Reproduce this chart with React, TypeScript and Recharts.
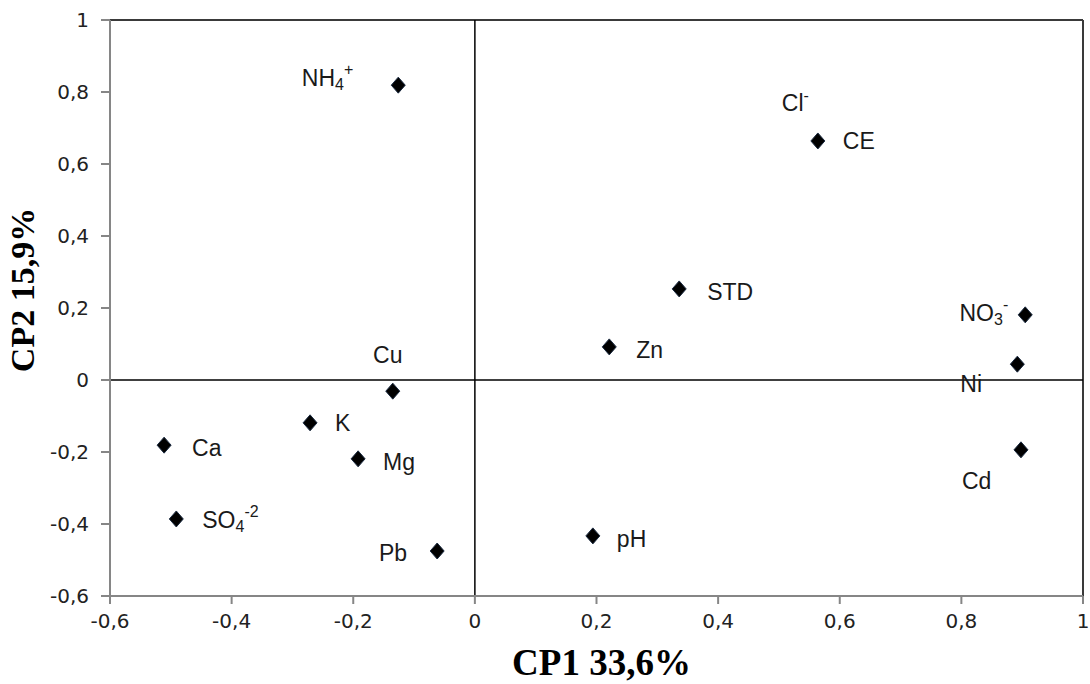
import {
  ScatterChart,
  Scatter,
  XAxis,
  YAxis,
  ReferenceLine,
  Label,
} from "recharts";

// PCA loadings (CP1, CP2)
const names = ["NH4+", "Cl-", "CE", "STD", "Zn", "NO3-", "Ni", "Cd", "Cu", "K", "Ca", "Mg", "SO4-2", "Pb", "pH"];
const cp1 = [-0.126, 0.564, 0.564, 0.336, 0.221, 0.905, 0.892, 0.898, -0.135, -0.271, -0.511, -0.192, -0.491, -0.062, 0.194];
const cp2 = [0.819, 0.664, 0.664, 0.253, 0.092, 0.181, 0.044, -0.194, -0.031, -0.119, -0.181, -0.219, -0.386, -0.475, -0.433];
const xTicks = [-0.6, -0.4, -0.2, 0, 0.2, 0.4, 0.6, 0.8, 1];
const yTicks = [-0.6, -0.4, -0.2, 0, 0.2, 0.4, 0.6, 0.8, 1];

// how each label is written: main text, subscript, superscript
const labelParts: Record<string, [string, string, string]> = {
  "NH4+": ["NH", "4", "+"],
  "Cl-": ["Cl", "", "-"],
  "NO3-": ["NO", "3", "-"],
  "SO4-2": ["SO", "4", "-2"],
};

// label placement relative to the marker: dx, dy, anchor
const labelPos: Record<string, [number, number, "start" | "middle" | "end"]> = {
  "NH4+": [-45, -7, "end"],
  "Cl-": [-36, -38, "start"],
  CE: [25, 0, "start"],
  STD: [28, 3, "start"],
  Zn: [27, 3, "start"],
  "NO3-": [-17, -2, "end"],
  Ni: [-57, 20, "start"],
  Cd: [-59, 31, "start"],
  Cu: [-5, -36, "middle"],
  K: [25, 0, "start"],
  Ca: [28, 3, "start"],
  Mg: [25, 3, "start"],
  "SO4-2": [26, 1, "start"],
  Pb: [-30, 2, "end"],
  pH: [24, 3, "start"],
};

const data = names.map((name, i) => ({ name, x: cp1[i], y: cp2[i] }));

const fmt = (v: number) => String(Math.round(v * 10) / 10).replace(".", ",");

const Marker = (props: any) => {
  const { cx, cy, payload } = props;
  const name: string = payload.name;
  const [dx, dy, anchor] = labelPos[name] || [25, 0, "start"];
  const parts = labelParts[name] || [name, "", ""];
  return (
    <g>
      {name !== "Cl-" && (
        <path
          d={`M${cx},${cy - 8}L${cx + 7},${cy}L${cx},${cy + 8}L${cx - 7},${cy}Z`}
          fill="#000"
          stroke="#1a2a40"
          strokeWidth={1}
        />
      )}
      <text
        x={cx + dx}
        y={cy + dy}
        textAnchor={anchor}
        dominantBaseline="central"
        fontFamily="Liberation Sans, Arial, sans-serif"
        fontSize={23}
        fill="#1a1a1a"
      >
        {parts[0]}
        {parts[1] && (
          <tspan fontSize={16} dy={6}>
            {parts[1]}
          </tspan>
        )}
        {parts[2] && (
          <tspan fontSize={16} dy={parts[1] ? -15 : -8}>
            {parts[2]}
          </tspan>
        )}
      </text>
    </g>
  );
};

const tickStyle = { fontFamily: "DejaVu Sans, Verdana, sans-serif", fontSize: 20, fill: "#222" };

export default function App() {
  return (
    <div style={{ position: "absolute", left: 0, top: 0, width: 1090, height: 684, background: "#fff" }}>
      <ScatterChart width={1090} height={684} margin={{ top: 20, right: 7, left: 10, bottom: 8 }}>
        <XAxis
          type="number"
          dataKey="x"
          domain={[-0.6, 1]}
          ticks={xTicks}
          tickFormatter={fmt}
          height={80}
          stroke="#868686"
          strokeWidth={2}
          tickSize={8}
          tickMargin={10}
          tick={tickStyle}
          interval={0}
        >
          <Label
            content={(p: any) => {
              const vb = p.viewBox;
              return (
                <text
                  x={vb.x + vb.width / 2 + 5}
                  y={vb.y + 79}
                  textAnchor="middle"
                  fontFamily="Liberation Serif, Times New Roman, serif"
                  fontWeight="bold"
                  fontSize={37}
                  fill="#000"
                >
                  CP1 33,6%
                </text>
              );
            }}
          />
        </XAxis>
        <YAxis
          type="number"
          dataKey="y"
          domain={[-0.6, 1]}
          ticks={yTicks}
          tickFormatter={fmt}
          width={100}
          stroke="#868686"
          strokeWidth={2}
          tickSize={9}
          tickMargin={12}
          tick={tickStyle}
          interval={0}
        >
          <Label
            content={(p: any) => {
              const vb = p.viewBox;
              const cy = vb.y + vb.height / 2 - 18;
              return (
                <text
                  x={22}
                  y={cy}
                  transform={`rotate(-90, 22, ${cy})`}
                  textAnchor="middle"
                  dominantBaseline="central"
                  fontFamily="Liberation Serif, Times New Roman, serif"
                  fontWeight="bold"
                  fontSize={34}
                  fill="#000"
                >
                  CP2 15,9%
                </text>
              );
            }}
          />
        </YAxis>
        <ReferenceLine y={1} stroke="#3a3a3a" strokeWidth={2} />
        <ReferenceLine x={1} stroke="#3a3a3a" strokeWidth={2} />
        <ReferenceLine x={0} stroke="#000" strokeWidth={1.5} />
        <ReferenceLine y={0} stroke="#000" strokeWidth={1.5} />
        <Scatter data={data} shape={Marker} isAnimationActive={false} />
      </ScatterChart>
    </div>
  );
}
